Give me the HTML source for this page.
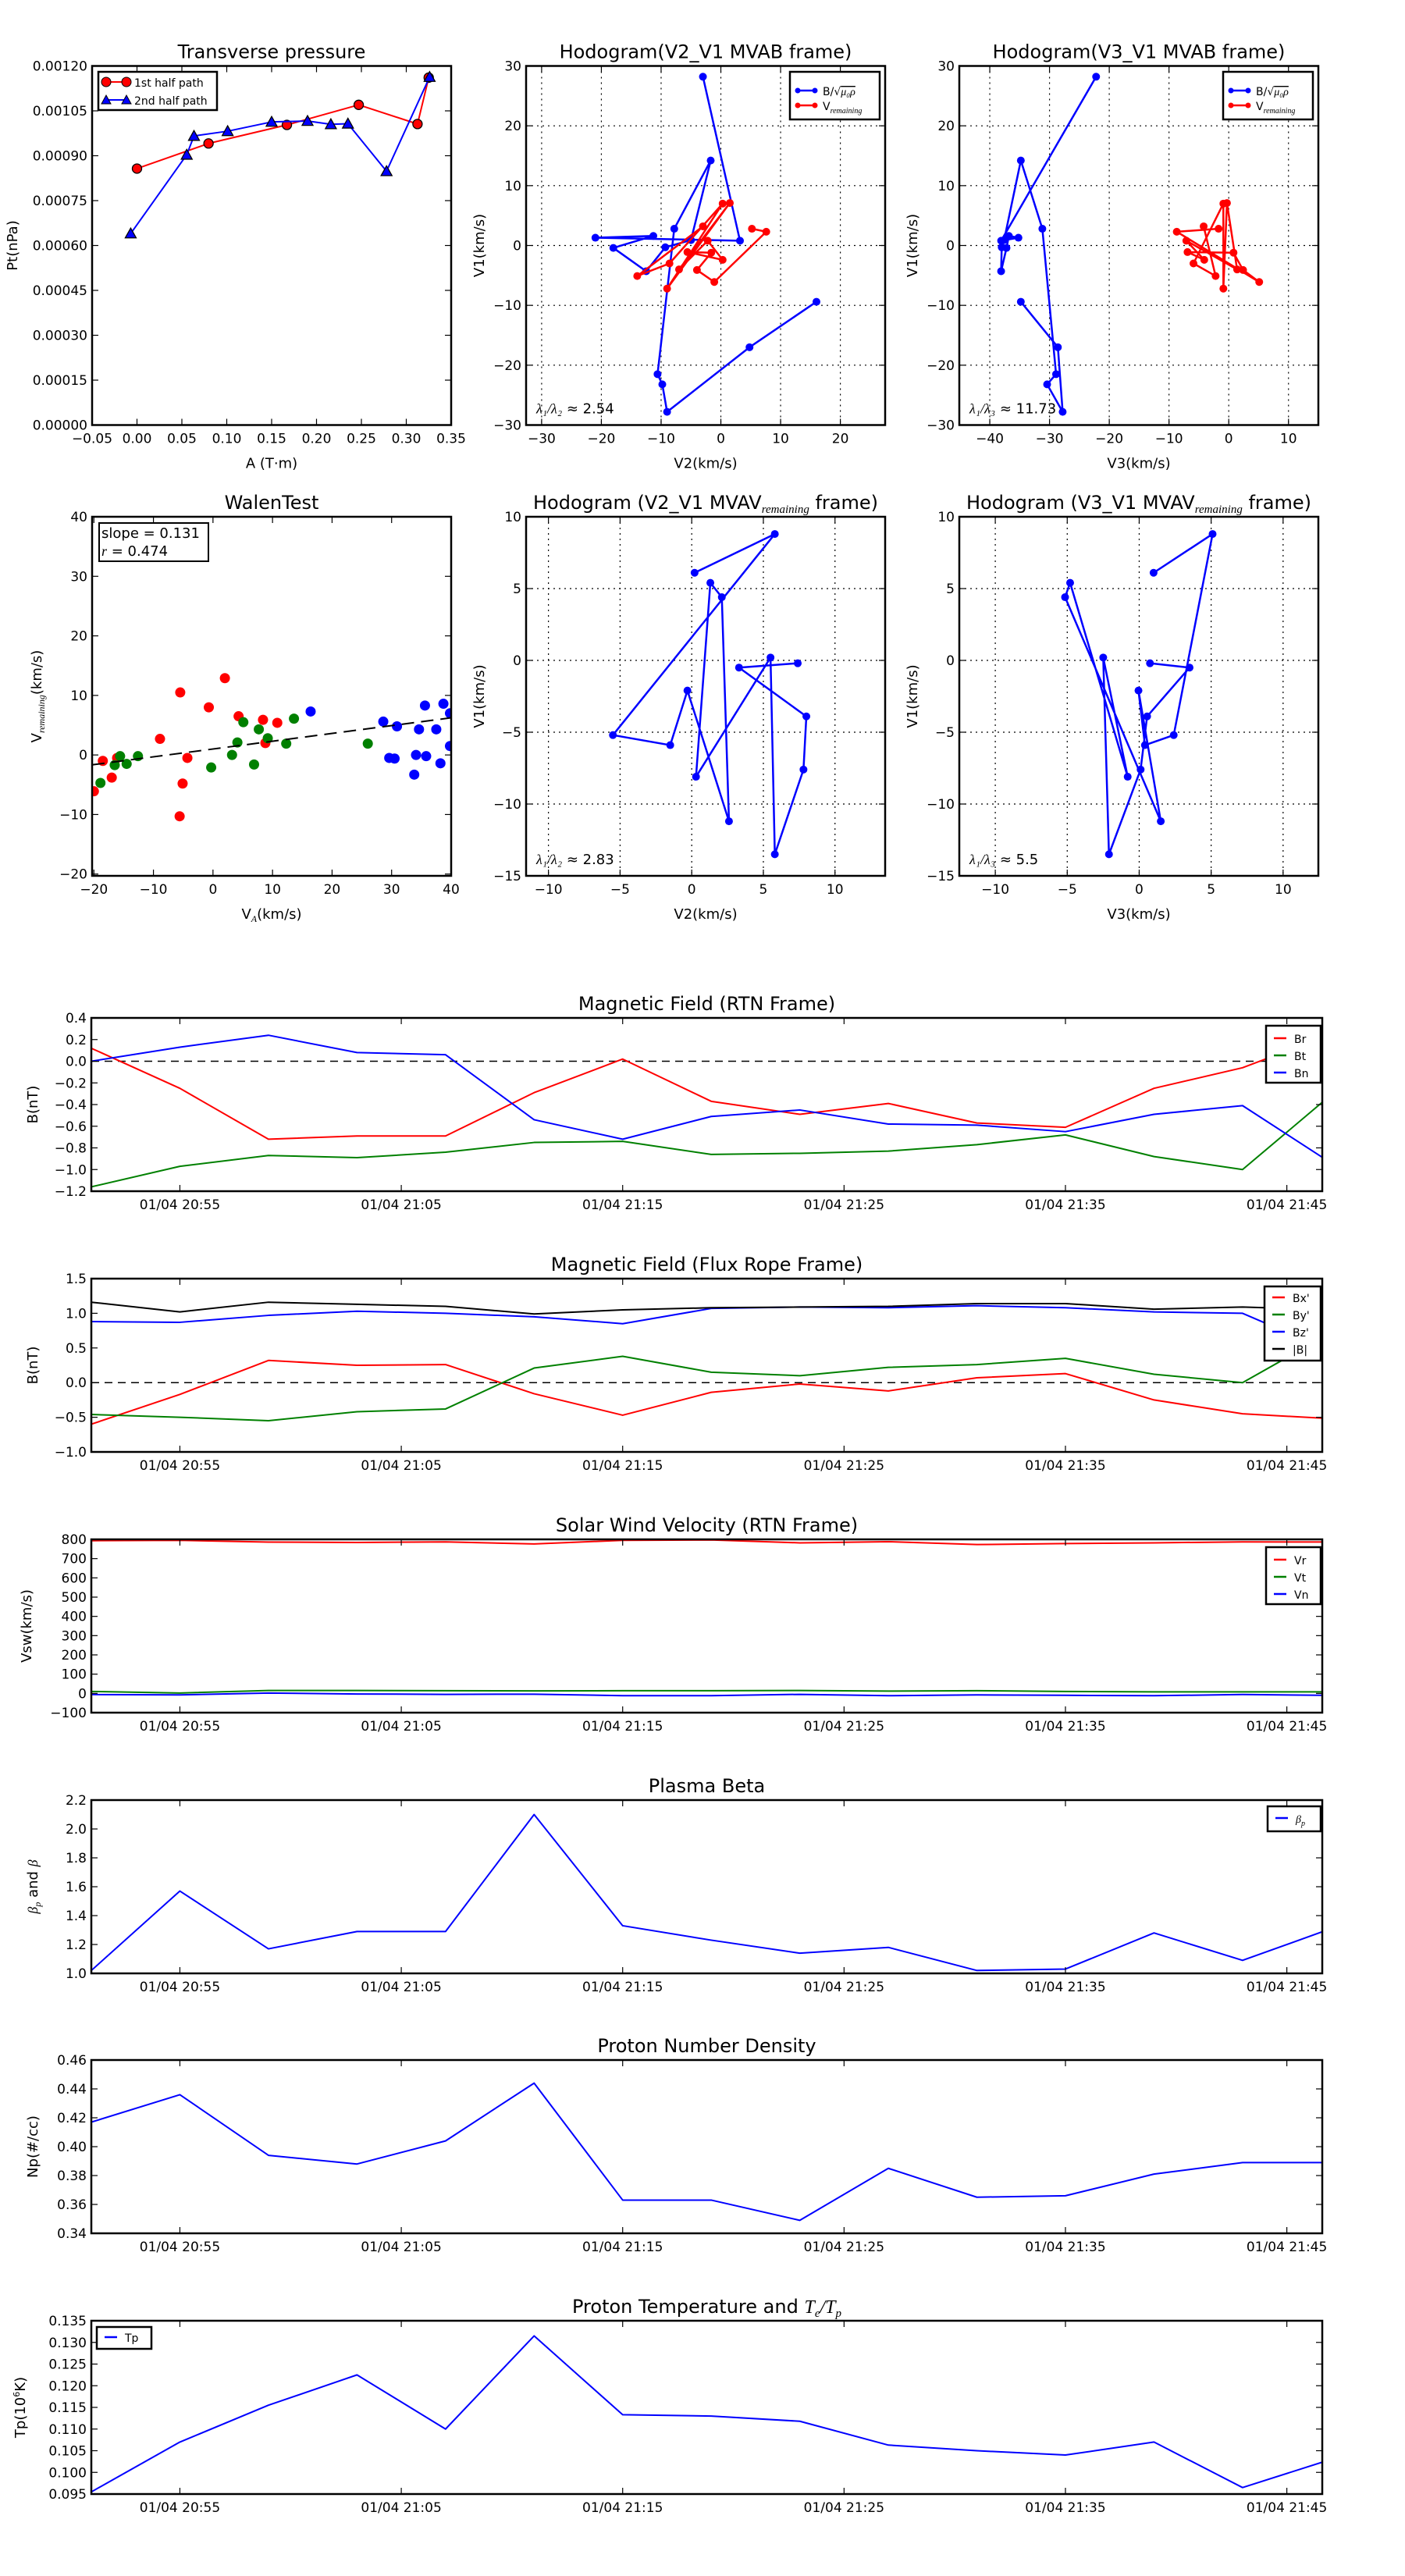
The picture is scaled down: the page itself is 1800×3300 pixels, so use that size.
<!DOCTYPE html>
<html><head><meta charset="utf-8">
<style>
html,body{margin:0;padding:0;background:#fff;}
svg{display:block;font-family:"DejaVu Sans","Liberation Sans",sans-serif;}
</style></head>
<body>
<svg id="fig" xmlns="http://www.w3.org/2000/svg" width="1800" height="3300" viewBox="0 0 1800 3300">
<rect x="0" y="0" width="1800" height="3300" fill="#fff"/>
</svg>
<script>
// ---------- DATA ----------
const ptRedA = [0, 0.0797, 0.167, 0.247, 0.3125, 0.325];
const ptRedP = [0.000857, 0.000941, 0.001003, 0.00107, 0.001006, 0.001161];
const ptBlueA = [-0.007, 0.0554, 0.0635, 0.101, 0.150, 0.190, 0.216, 0.235, 0.278, 0.326];
const ptBlueP = [0.00064, 0.000903, 0.000966, 0.000982, 0.001013, 0.001016, 0.001005, 0.001007, 0.000848, 0.001163];

const hbV1 = [-9.4, -17, -27.8, -23.2, -21.5, 2.8, 14.2, 0.9, -0.3, -4.3, -0.4, 1.6, 1.3, 0.8, 28.2];
const hbV2 = [16, 4.8, -9, -9.8, -10.6, -7.8, -1.7, -5, -9.3, -12.5, -18, -11.3, -21, 3.2, -3];
const hbV3 = [-34.8, -28.6, -27.8, -30.4, -28.9, -31.2, -34.8, -37.6, -38, -38.1, -37.2, -36.8, -35.2, -38.1, -22.2];
const hrV1 = [2.8, 2.3, -6.1, -4.1, -1.2, -1.1, -2.4, 0.8, -4, 7.1, -7.2, 7, -3, -5.1, 3.2];
const hrV2 = [5.2, 7.6, -1.1, -4, -1.6, -5.6, 0.3, -2.2, -7, 1.5, -9, 0.3, -8.6, -14, -3];
const hrV3 = [-1.7, -8.7, 5.1, 2.4, 0.8, -6.9, -4.1, -7.1, 1.4, -0.3, -0.9, -0.9, -5.9, -2.2, -4.2];
const hvV1 = [6.1, 8.8, -5.2, -5.9, -2.1, -11.2, 4.4, 5.4, -8.1, 0.2, -13.5, -7.6, -3.9, -0.5, -0.2];
const hvV2 = [0.2, 5.8, -5.5, -1.5, -0.3, 2.6, 2.1, 1.3, 0.3, 5.5, 5.8, 7.8, 8, 3.3, 7.4];
const hvV3 = [1.0, 5.1, 2.4, 0.4, -0.05, 1.5, -5.15, -4.8, -0.8, -2.5, -2.1, 0.1, 0.55, 3.5, 0.75];

const walRedX = [-20, -18.5, -17, -16.1, -8.9, -5.5, -5.6, -5.1, -4.3, -0.7, 2, 4.3, 8.4, 8.8, 10.8];
const walRedY = [-6.1, -1, -3.8, -0.5, 2.7, 10.5, -10.3, -4.8, -0.5, 8, 12.9, 6.5, 5.9, 2, 5.4];
const walGreenX = [-18.9, -16.5, -15.6, -14.5, -12.6, -0.3, 3.2, 4.1, 5.1, 6.9, 7.7, 9.2, 12.3, 13.6, 26];
const walGreenY = [-4.7, -1.7, -0.2, -1.5, -0.2, -2.1, 0, 2.1, 5.5, -1.6, 4.3, 2.8, 1.9, 6.1, 1.9];
const walBlueX = [16.4, 28.6, 29.6, 30.5, 30.9, 33.8, 34.1, 34.6, 35.6, 35.8, 37.5, 38.2, 38.7, 39.8, 39.8];
const walBlueY = [7.3, 5.6, -0.5, -0.6, 4.8, -3.3, 0, 4.3, 8.3, -0.2, 4.3, -1.4, 8.6, 7, 1.5];
const walSlope = 0.131;
const walIntercept = 1.0;

const tMin = [0, 4, 8, 12, 16, 20, 24, 28, 32, 36, 40, 44, 48, 52, 56];
const timeTickMin = [4, 14, 24, 34, 44, 54];
const timeTickLabels = ["01/04 20:55", "01/04 21:05", "01/04 21:15", "01/04 21:25", "01/04 21:35", "01/04 21:45"];
const Br = [0.12, -0.25, -0.72, -0.69, -0.69, -0.29, 0.02, -0.37, -0.49, -0.39, -0.57, -0.61, -0.25, -0.06, 0.25];
const Bt = [-1.16, -0.97, -0.87, -0.89, -0.84, -0.75, -0.74, -0.86, -0.85, -0.83, -0.77, -0.68, -0.88, -1.0, -0.31];
const Bn = [0.0, 0.13, 0.24, 0.08, 0.06, -0.54, -0.72, -0.51, -0.45, -0.58, -0.59, -0.65, -0.49, -0.41, -0.94];
const Bxp = [-0.6, -0.17, 0.32, 0.25, 0.26, -0.16, -0.47, -0.14, -0.02, -0.12, 0.07, 0.13, -0.25, -0.45, -0.52];
const Byp = [-0.46, -0.5, -0.55, -0.42, -0.38, 0.21, 0.38, 0.15, 0.1, 0.22, 0.26, 0.35, 0.12, 0.0, 0.72];
const Bzp = [0.88, 0.87, 0.97, 1.03, 1.0, 0.95, 0.85, 1.07, 1.09, 1.08, 1.11, 1.08, 1.02, 1.0, 0.45];
const Bmag = [1.16, 1.02, 1.16, 1.13, 1.1, 0.99, 1.05, 1.08, 1.09, 1.1, 1.14, 1.14, 1.06, 1.09, 1.05];
const Vr = [793, 795, 786, 784, 787, 776, 795, 797, 782, 788, 773, 778, 782, 787, 786];
const Vt = [10, 2, 15, 15, 14, 13, 14, 14, 15, 12, 14, 10, 8, 8, 8];
const Vn = [-6, -8, 2, -3, -5, -4, -12, -12, -5, -12, -8, -10, -12, -6, -10];
const betaP = [1.02, 1.57, 1.17, 1.29, 1.29, 2.10, 1.33, 1.23, 1.14, 1.18, 1.02, 1.03, 1.28, 1.09, 1.31];
const Np = [0.417, 0.436, 0.394, 0.388, 0.404, 0.444, 0.363, 0.363, 0.349, 0.385, 0.365, 0.366, 0.381, 0.389, 0.389];
const Tp = [0.0955, 0.107, 0.1155, 0.1225, 0.110, 0.1315, 0.1133, 0.113, 0.1118, 0.1063, 0.105, 0.104, 0.107, 0.0965, 0.103];

// ---------- HELPERS ----------
const NS = "http://www.w3.org/2000/svg";
const fig = document.getElementById('fig');
function mk(tag, attrs, parent) {
  const e = document.createElementNS(NS, tag);
  for (const k in attrs) e.setAttribute(k, attrs[k]);
  (parent || fig).appendChild(e);
  return e;
}
function fmt(v, d) { const s = Math.abs(v).toFixed(d); return (v < -1e-12 ? "\u2212" : "") + s; }
function range(a, b, s) { const r = []; for (let v = a; v <= b + s * 1e-6; v += s) r.push(+v.toFixed(10)); return r; }

function makeAxes(o) {
  const g = mk('g', {});
  
  
  const sx = v => o.x0 + (v - o.xlim[0]) / (o.xlim[1] - o.xlim[0]) * o.w;
  const sy = v => o.y0 + o.h - (v - o.ylim[0]) / (o.ylim[1] - o.ylim[0]) * o.h;
  const clipId = 'clip-' + o.name;
  const cp = mk('clipPath', { id: clipId }, g);
  mk('rect', { x: o.x0, y: o.y0, width: o.w, height: o.h }, cp);
  const plot = mk('g', { 'clip-path': 'url(#' + clipId + ')' }, g);
  
  
  if (o.grid) {
    o.xticks.forEach(v => { const l = mk('line', { x1: sx(v), x2: sx(v), y1: o.y0, y2: o.y0 + o.h, stroke: '#000', 'stroke-width': 1.2, 'stroke-dasharray': '2,5' }, plot);   });
    o.yticks.forEach(v => { const l = mk('line', { x1: o.x0, x2: o.x0 + o.w, y1: sy(v), y2: sy(v), stroke: '#000', 'stroke-width': 1.2, 'stroke-dasharray': '2,5' }, plot);   });
  }
  const tk = 8;
  const xg = mk('g', {}, g);
  
  
  o.xticks.forEach((v, i) => {
    const x = sx(v);
    mk('line', { x1: x, x2: x, y1: o.y0 + o.h, y2: o.y0 + o.h - tk, stroke: '#000', 'stroke-width': 1.2 }, xg);
    mk('line', { x1: x, x2: x, y1: o.y0, y2: o.y0 + tk, stroke: '#000', 'stroke-width': 1.2 }, xg);
    const t = mk('text', { x: x, y: o.y0 + o.h + 23, 'font-size': o.tfs || 17, 'text-anchor': 'middle' }, xg);
    
    
    t.textContent = o.xlabels[i];
  });
  const yg = mk('g', {}, g);
  
  
  o.yticks.forEach((v, i) => {
    const y = sy(v);
    mk('line', { x1: o.x0, x2: o.x0 + tk, y1: y, y2: y, stroke: '#000', 'stroke-width': 1.2 }, yg);
    mk('line', { x1: o.x0 + o.w, x2: o.x0 + o.w - tk, y1: y, y2: y, stroke: '#000', 'stroke-width': 1.2 }, yg);
    const t = mk('text', { x: o.x0 - 6, y: y + 6, 'font-size': o.tfs || 17, 'text-anchor': 'end' }, yg);
    
    
    t.textContent = o.ylabels[i];
  });
  const fr = mk('rect', { x: o.x0, y: o.y0, width: o.w, height: o.h, fill: 'none', stroke: '#000', 'stroke-width': 2.5 }, g);
  
  
  const tt = mk('text', { x: o.x0 + o.w / 2, y: o.y0 - 10, 'font-size': 24, 'text-anchor': 'middle' }, g);
  
  
  tt.innerHTML = o.title;
  if (o.xtitle) {
    const xt = mk('text', { x: o.x0 + o.w / 2, y: o.y0 + o.h + 55, 'font-size': 18, 'text-anchor': 'middle' }, g);
    
    
    xt.innerHTML = o.xtitle;
  }
  if (o.ytitle) {
    const yx = o.ytx, yy = o.y0 + o.h / 2;
    const yt = mk('text', { x: yx, y: yy, 'font-size': 18, 'text-anchor': 'middle', transform: 'rotate(-90 ' + yx + ' ' + yy + ')' }, g);
    
    
    yt.innerHTML = o.ytitle;
  }
  return { g, plot, sx, sy };
}
function polyline(ax, xs, ys, color, lw, name) {
  const pts = xs.map((x, i) => ax.sx(x).toFixed(2) + ',' + ax.sy(ys[i]).toFixed(2)).join(' ');
  const p = mk('polyline', { points: pts, fill: 'none', stroke: color, 'stroke-width': lw, 'stroke-linejoin': 'round' }, ax.plot);
  
  
  return p;
}
function dots(ax, xs, ys, color, r, name, edge) {
  xs.forEach((x, i) => {
    const c = mk('circle', { cx: ax.sx(x), cy: ax.sy(ys[i]), r: r, fill: color, stroke: edge || 'none', 'stroke-width': edge ? 1.3 : 0 }, ax.plot);
    
    
  });
}
function tris(ax, xs, ys, color, s, name) {
  xs.forEach((x, i) => {
    const cx = ax.sx(x), cy = ax.sy(ys[i]);
    const p = mk('polygon', { points: `${cx},${cy - s} ${cx - s},${cy + s * 0.8} ${cx + s},${cy + s * 0.8}`, fill: color, stroke: '#000', 'stroke-width': 1.3 }, ax.plot);
    
    
  });
}
function legend(x, y, w, h, entries, name, lineLen, fs) {
  const g = mk('g', {});
  
  
  mk('rect', { x: x, y: y, width: w, height: h, fill: '#fff', stroke: '#000', 'stroke-width': 2.5 }, g);
  entries.forEach((e, i) => {
    const ey = y + e.dy;
    const eg = mk('g', {}, g);
    
    
    mk('line', { x1: x + 10, x2: x + 10 + lineLen, y1: ey, y2: ey, stroke: e.color, 'stroke-width': e.lw || 2.5 }, eg);
    if (e.marker === 'circle') { mk('circle', { cx: x + 10, cy: ey, r: e.r, fill: e.color, stroke: e.edge || 'none' }, eg); mk('circle', { cx: x + 10 + lineLen, cy: ey, r: e.r, fill: e.color, stroke: e.edge || 'none' }, eg); }
    if (e.marker === 'tri') { [x + 10, x + 10 + lineLen].forEach(cx => mk('polygon', { points: `${cx},${ey - 6} ${cx - 6},${ey + 5} ${cx + 6},${ey + 5}`, fill: e.color, stroke: '#000' }, eg)); }
    const t = mk('text', { x: x + 20 + lineLen, y: ey + 6, 'font-size': fs || 15 }, eg);
    t.innerHTML = e.label;
  });
}

// ---------- PANEL 1 ----------
(function () {
  const xt = range(-0.05, 0.35, 0.05), yt = range(0, 0.0012, 0.00015);
  const ax = makeAxes({ name: 'transverse-pressure', x0: 118, y0: 84.5, w: 460, h: 460, xlim: [-0.05, 0.35], ylim: [0, 0.0012],
    xticks: xt, xlabels: xt.map(v => fmt(v, 2)), yticks: yt, ylabels: yt.map(v => fmt(v, 5)),
    title: 'Transverse pressure', xtitle: 'A (T·m)', ytitle: 'Pt(nPa)', ytx: 22 });
  polyline(ax, ptRedA, ptRedP, '#f00', 2, 'first-half-path-line');
  dots(ax, ptRedA, ptRedP, '#f00', 6, 'first-half-path-point', '#000');
  polyline(ax, ptBlueA, ptBlueP, '#00f', 2, 'second-half-path-line');
  tris(ax, ptBlueA, ptBlueP, '#00f', 7, 'second-half-path-point');
  legend(126, 92, 152, 49, [
    { color: '#f00', marker: 'circle', r: 6, edge: '#000', label: '1st half path', dy: 13, lw: 2 },
    { color: '#00f', marker: 'tri', label: '2nd half path', dy: 36, lw: 2 }], 'pressure-legend', 26, 14);
})();

// ---------- Hodograms ----------
function hodo(name, x0, y0, xlim, ylim, xt, yt, title, xtitle, bx, by, rx, ry, ratio, legendX) {
  const ax = makeAxes({ name: name, x0: x0, y0: y0, w: 460, h: 460, xlim: xlim, ylim: ylim, grid: true,
    xticks: xt, xlabels: xt.map(v => fmt(v, 0)), yticks: yt, ylabels: yt.map(v => fmt(v, 0)),
    title: title, xtitle: xtitle, ytitle: 'V1(km/s)', ytx: x0 - 54 });
  polyline(ax, bx, by, '#00f', 2.5, name + '-b-line');
  dots(ax, bx, by, '#00f', 5, name + '-b-point');
  if (rx) { polyline(ax, rx, ry, '#f00', 2.5, name + '-v-line'); dots(ax, rx, ry, '#f00', 5, name + '-v-point'); }
  const lt = mk('text', { x: x0 + 13, y: y0 + 445, 'font-size': 18 });
  
  
  lt.innerHTML = ratio;
  if (legendX) {
    legend(legendX, 92, 115, 61, [
      { color: '#00f', marker: 'circle', r: 3.5, label: 'B/√<tspan text-decoration="overline" font-style="italic" font-family="Liberation Serif, serif">μ₀ρ</tspan>', dy: 24, lw: 2.5 },
      { color: '#f00', marker: 'circle', r: 3.5, label: 'V<tspan font-size="10" dy="4" font-style="italic" font-family="Liberation Serif, serif">remaining</tspan>', dy: 43, lw: 2.5 }], name + '-legend', 22, 14);
  }
}
hodo('hodogram-v2-v1-mvab', 674, 84.5, [-32.6, 27.5], [-30, 30], range(-30, 20, 10), range(-30, 30, 10),
  'Hodogram(V2_V1 MVAB frame)', 'V2(km/s)', hbV2, hbV1, hrV2, hrV1, '<tspan font-style="italic" font-family="Liberation Serif, serif">λ₁/λ₂</tspan> ≈ 2.54', 1012);
hodo('hodogram-v3-v1-mvab', 1229, 84.5, [-45.1, 15], [-30, 30], range(-40, 10, 10), range(-30, 30, 10),
  'Hodogram(V3_V1 MVAB frame)', 'V3(km/s)', hbV3, hbV1, hrV3, hrV1, '<tspan font-style="italic" font-family="Liberation Serif, serif">λ₁/λ₃</tspan> ≈ 11.73', 1567);
hodo('hodogram-v2-v1-mvav', 674, 662, [-11.56, 13.5], [-15, 10], range(-10, 10, 5), range(-15, 10, 5),
  'Hodogram (V2_V1 MVAV<tspan font-size="15" dy="5" font-style="italic" font-family="Liberation Serif, serif">remaining</tspan><tspan dy="-5"> frame)</tspan>', 'V2(km/s)', hvV2, hvV1, null, null, '<tspan font-style="italic" font-family="Liberation Serif, serif">λ₁/λ₂</tspan> ≈ 2.83', 0);
hodo('hodogram-v3-v1-mvav', 1229, 662, [-12.5, 12.45], [-15, 10], range(-10, 10, 5), range(-15, 10, 5),
  'Hodogram (V3_V1 MVAV<tspan font-size="15" dy="5" font-style="italic" font-family="Liberation Serif, serif">remaining</tspan><tspan dy="-5"> frame)</tspan>', 'V3(km/s)', hvV3, hvV1, null, null, '<tspan font-style="italic" font-family="Liberation Serif, serif">λ₁/λ₃</tspan> ≈ 5.5', 0);

// ---------- Walen test ----------
(function () {
  const t = range(-20, 40, 10);
  const ax = makeAxes({ name: 'walen-test', x0: 118, y0: 662, w: 460, h: 460, xlim: [-20.3, 40], ylim: [-20.3, 40],
    xticks: t, xlabels: t.map(v => fmt(v, 0)), yticks: t, ylabels: t.map(v => fmt(v, 0)),
    title: 'WalenTest', xtitle: 'V<tspan font-size="12" dy="4" font-style="italic" font-family="Liberation Serif, serif">A</tspan><tspan dy="-4">(km/s)</tspan>',
    ytitle: 'V<tspan font-size="12" dy="4" font-style="italic" font-family="Liberation Serif, serif">remaining</tspan><tspan dy="-4">(km/s)</tspan>', ytx: 53 });
  dots(ax, walRedX, walRedY, '#f00', 6.5, 'walen-point-red');
  dots(ax, walGreenX, walGreenY, '#008000', 6.5, 'walen-point-green');
  dots(ax, walBlueX, walBlueY, '#00f', 6.5, 'walen-point-blue');
  const xa = [-20.3, 40], ya = xa.map(v => walSlope * v + walIntercept);
  const fl = polyline(ax, xa, ya, '#000', 2, 'walen-fit-line');
  fl.setAttribute('stroke-dasharray', '16,9');
  const g = mk('g', {});
  
  
  mk('rect', { x: 127, y: 670, width: 140, height: 49, fill: '#fff', stroke: '#000', 'stroke-width': 2 }, g);
  const t1 = mk('text', { x: 130, y: 689, 'font-size': 18 }, g); t1.textContent = 'slope = 0.131';
  const t2 = mk('text', { x: 130, y: 712, 'font-size': 18 }, g); t2.innerHTML = '<tspan font-style="italic" font-family="Liberation Serif, serif">r</tspan> = 0.474';
})();

// ---------- Time series ----------
function ts(name, top, ylim, ystep, dec, title, ytitle, ytx, series, zero, leg) {
  const yt = range(ylim[0], ylim[1], ystep);
  const ax = makeAxes({ name: name, x0: 117, y0: top, w: 1577, h: 222, xlim: [0, 55.6], ylim: ylim,
    xticks: timeTickMin, xlabels: timeTickLabels, yticks: yt, ylabels: yt.map(v => fmt(v, dec)),
    title: title, ytitle: ytitle, ytx: ytx });
  if (zero) { const z = polyline(ax, [0, 56], [0, 0], '#000', 1.5, name + '-zero-line'); z.setAttribute('stroke-dasharray', '10,7'); }
  series.forEach(s => polyline(ax, tMin, s.d, s.c, 2, name + '-' + s.n + '-line'));
  if (leg) legend(leg.x, leg.y, leg.w, leg.h, series.map((s, i) => ({ color: s.c, label: s.l, dy: leg.d0 + i * leg.dd, lw: 2.5 })), name + '-legend', 16, 14);
}
ts('magnetic-field-rtn', 1304, [-1.2, 0.4], 0.2, 1, 'Magnetic Field (RTN Frame)', 'B(nT)', 48,
  [{ d: Br, c: '#f00', n: 'br', l: 'Br' }, { d: Bt, c: '#008000', n: 'bt', l: 'Bt' }, { d: Bn, c: '#00f', n: 'bn', l: 'Bn' }], true,
  { x: 1622, y: 1314, w: 70, h: 73, d0: 16, dd: 22 });
ts('magnetic-field-flux-rope', 1638, [-1.0, 1.5], 0.5, 1, 'Magnetic Field (Flux Rope Frame)', 'B(nT)', 48,
  [{ d: Bxp, c: '#f00', n: 'bx', l: "Bx'" }, { d: Byp, c: '#008000', n: 'by', l: "By'" }, { d: Bzp, c: '#00f', n: 'bz', l: "Bz'" }, { d: Bmag, c: '#000', n: 'bmag', l: '|B|' }], true,
  { x: 1620, y: 1648, w: 72, h: 95, d0: 14, dd: 22 });
ts('solar-wind-velocity', 1972, [-100, 800], 100, 0, 'Solar Wind Velocity (RTN Frame)', 'Vsw(km/s)', 40,
  [{ d: Vr, c: '#f00', n: 'vr', l: 'Vr' }, { d: Vt, c: '#008000', n: 'vt', l: 'Vt' }, { d: Vn, c: '#00f', n: 'vn', l: 'Vn' }], false,
  { x: 1622, y: 1982, w: 70, h: 73, d0: 16, dd: 22 });
ts('plasma-beta', 2306, [1.0, 2.2], 0.2, 1, 'Plasma Beta', '<tspan font-style="italic" font-family="Liberation Serif, serif">β<tspan font-size="12" dy="4">p</tspan></tspan><tspan dy="-4"> and </tspan><tspan font-style="italic" font-family="Liberation Serif, serif">β</tspan>', 48,
  [{ d: betaP, c: '#00f', n: 'beta-p', l: '<tspan font-style="italic" font-family="Liberation Serif, serif">β<tspan font-size="10" dy="4">p</tspan></tspan>' }], false,
  { x: 1624, y: 2314, w: 68, h: 32, d0: 15, dd: 22 });
ts('proton-number-density', 2639, [0.34, 0.46], 0.02, 2, 'Proton Number Density', 'Np(#/cc)', 48,
  [{ d: Np, c: '#00f', n: 'np', l: 'Np' }], false, null);
ts('proton-temperature', 2973, [0.095, 0.135], 0.005, 3, 'Proton Temperature and <tspan font-style="italic" font-family="Liberation Serif, serif">T<tspan font-size="15" dy="5">e</tspan><tspan dy="-5">/T</tspan><tspan font-size="15" dy="5">p</tspan></tspan>', 'Tp(10<tspan font-size="11" dy="-7">6</tspan><tspan dy="7">K)</tspan>', 32,
  [{ d: Tp, c: '#00f', n: 'tp', l: 'Tp' }], false,
  { x: 124, y: 2981, w: 70, h: 28, d0: 13, dd: 22 });
</script>
</body></html>
